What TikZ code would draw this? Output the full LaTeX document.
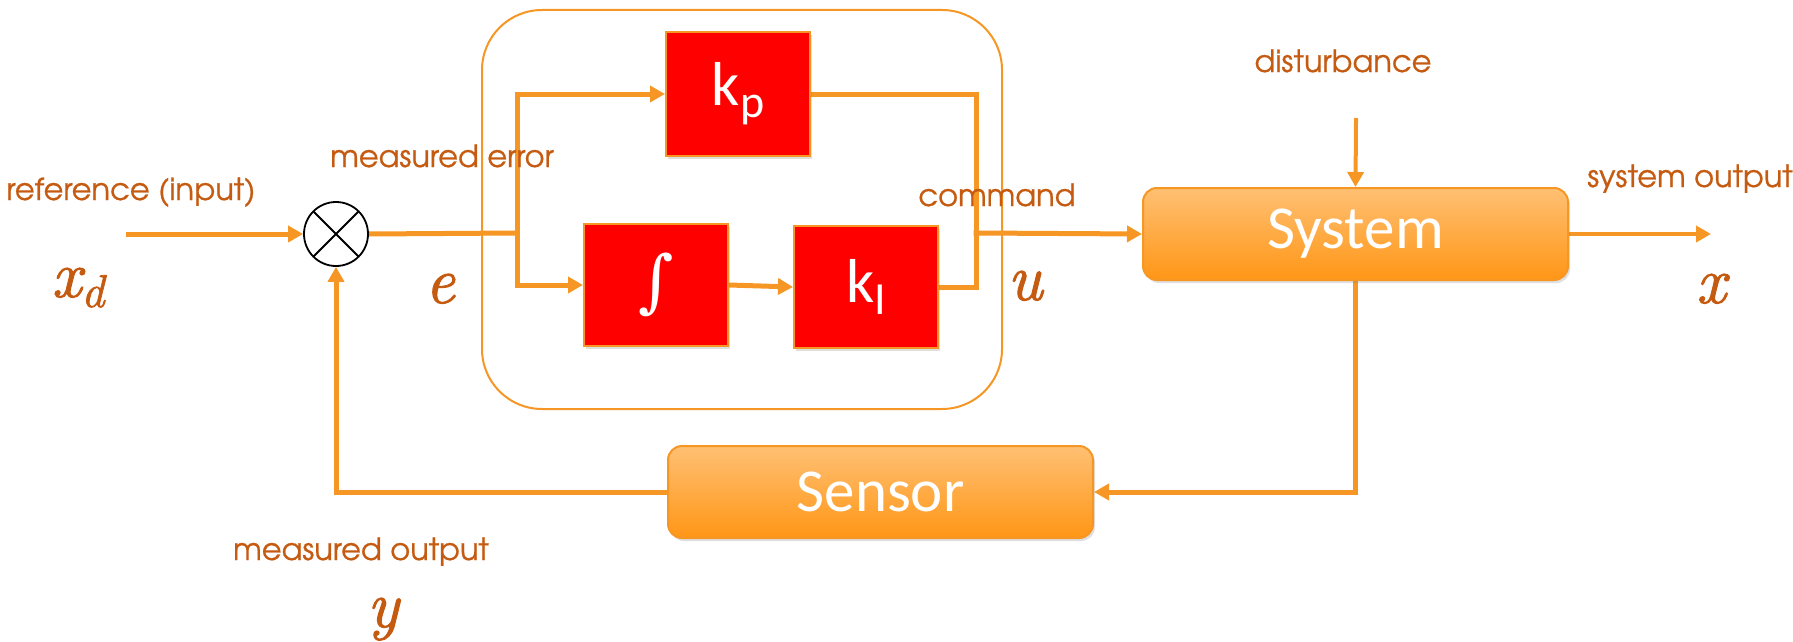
\documentclass[tikz,border=0pt]{standalone}
\usepackage{fontspec}
\usetikzlibrary{arrows.meta,shadows,backgrounds}
\newfontfamily\labelfont[FakeBold=0.7]{TeX Gyre Adventor}
\newfontfamily\boxfont{Carlito}
\newfontfamily\intfont{DejaVu Serif}
\newfontfamily\varfont[FakeBold=1.6]{Latin Modern Roman}
\definecolor{wire}{RGB}{246,150,36}
\definecolor{note}{RGB}{197,90,17}
\definecolor{planttop}{RGB}{255,192,115}
\definecolor{plantbot}{RGB}{255,150,22}
\newcommand\sig[2]{#1\raisebox{-10pt}{\fontsize{46}{46}\selectfont #2}}
\begin{document}
\begin{tikzpicture}[x=1pt,y=-1pt,
  wireline/.style={draw=wire, line width=5pt, line cap=rect},
  arr/.style={wireline, -{Triangle[length=15pt,width=16pt]}},
  gain/.style={draw=wire, line width=2pt, fill=red, minimum width=144pt,
    minimum height=122pt, inner sep=0pt, text=white,
    drop shadow={opacity=0.25, shadow xshift=2pt, shadow yshift=-3pt}},
  plant/.style={draw=wire, line width=2pt, rounded corners=14pt,
    top color=planttop, bottom color=plantbot, minimum width=425pt,
    minimum height=92pt, inner sep=0pt, text=white,
    font=\boxfont\fontsize{61}{61}\selectfont,
    drop shadow={opacity=0.25, shadow xshift=2pt, shadow yshift=-3pt}},
  note/.style={text=note, font=\labelfont\fontsize{30.5}{36}\selectfont,
    inner sep=0pt, anchor=base},
  var/.style={text=note, font=\varfont\itshape\fontsize{66}{66}\selectfont,
    inner sep=0pt, anchor=base},
  gainfont/.style={font=\boxfont\fontsize{62}{62}\selectfont},
]
\useasboundingbox (0,0) rectangle (1793,642);

% summing junction
\node[circle, draw=black, line width=1.8pt, fill=white, minimum size=64pt,
  inner sep=0pt,
  path picture={\draw[line width=1.8pt]
    (path picture bounding box.north west) -- (path picture bounding box.south east)
    (path picture bounding box.north east) -- (path picture bounding box.south west);}]
  (sum) at (336,234) {};

% PI controller blocks
\node[gain, gainfont, minimum height=124pt] (kp) at (738,94)
  {k\raisebox{-12pt}{\fontsize{46}{46}\selectfont p}};
\node[gain] (int) at (656,285)
  {\intfont\fontsize{68}{68}\selectfont ∫};
\node[gain, gainfont] (ki) at (866,287)
  {k\raisebox{-12pt}{\fontsize{46}{46}\selectfont I}};

% plant and sensor
\node[plant] (sys) at (1355.5,234) {System};
\node[plant] (sensor) at (880.5,492) {Sensor};

% free ends and junction points
\coordinate (in) at (128,234);
\coordinate (branch) at (517,233);
\coordinate (merge) at (976,233);
\coordinate (dist) at (1356,120);
\coordinate (out) at (1711,234);

\begin{pgfonlayer}{background}
  \draw[arr] (in) -- (sum.west);
  \draw[wireline] (sum.east) -- (branch);
  \draw[wireline] (branch |- kp.west) -- (branch |- int.west);
  \draw[arr] (branch |- kp.west) -- (kp.west);
  \draw[arr] (branch |- int.west) -- (int.west);
  \draw[arr] (int.east) -- (ki.west);
  \draw[wireline] (kp.east) -| (merge) |- (ki.east);
  \draw[arr] (merge) -- (sys.west);
  \draw[arr, line width=4pt] (dist) -- (sys.north);
  \draw[arr, line width=4pt] (sys.east) -- (out);
  \draw[arr] (sys.south) |- (sensor.east);
  \draw[arr] (sensor.west) -| (sum.south);
\end{pgfonlayer}

% controller outline
\node[draw=wire, line width=2pt, rounded corners=60pt, minimum width=520pt,
  minimum height=399pt, inner sep=0pt] (pid) at (742,209.5) {};

% signal names
\node[note] (lref) at (131,200) {reference (input)};
\node[note] (lerr) at (442,167) {measured error};
\node[note] (lcmd) at (997,206) {command};
\node[note] (ldist) at (1343,72) {disturbance};
\node[note] (lsys) at (1690,187) {system output};
\node[note] (lmeas) at (361,560) {measured output};

\node[var] (vxd) at (78,297) {\sig{x}{d}};
\node[var] (ve) at (440,303) {e};
\node[var] (vu) at (1025,300) {u};
\node[var] (vx) at (1711,303) {x};
\node[var] (vy) at (383,627) {y};
\end{tikzpicture}
\end{document}
